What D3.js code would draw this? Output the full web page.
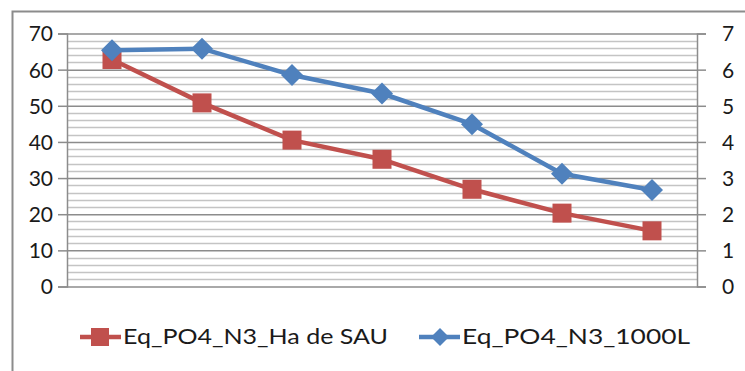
<!DOCTYPE html>
<html>
<head>
<meta charset="utf-8">
<script src="https://cdn.jsdelivr.net/npm/d3@7"></script>
<style>
  html, body { margin: 0; padding: 0; background: #fff; }
  svg { display: block; }
  text { font-family: Lato, "Open Sans", sans-serif; fill: #1a1a1a; }
</style>
</head>
<body>
<svg id="chart" width="745" height="371"></svg>
<script>
// Seven successive periods, two indicators on separate axes
const categories = ["1", "2", "3", "4", "5", "6", "7"];
const haSau = [62.8, 50.8, 40.5, 35.2, 26.9, 20.3, 15.4];   // left axis
const perThousandL = [6.54, 6.58, 5.85, 5.34, 4.49, 3.12, 2.67]; // right axis
const leftTicks = [0, 10, 20, 30, 40, 50, 60, 70];
const rightTicks = [0, 1, 2, 3, 4, 5, 6, 7];
const seriesNames = ["Eq_PO4_N3_Ha de SAU", "Eq_PO4_N3_1000L"];

const red = "#C0504D", blue = "#4F81BD";
const svg = d3.select("#chart");

// outer frame
svg.append("rect").attr("x", 12.5).attr("y", 11.5).attr("width", 760).attr("height", 400)
  .attr("fill", "none").attr("stroke", "#8c8c8c").attr("stroke-width", 2);

const plot = { left: 67, right: 697, top: 33.5, bottom: 286.5 };

const x = d3.scaleBand().domain(categories).range([plot.left, plot.right]);
const yL = d3.scaleLinear().domain([0, 70]).range([plot.bottom, plot.top]);
const yR = d3.scaleLinear().domain([0, 7]).range([plot.bottom, plot.top]);

// minor gridlines every 2, major every 10
const minor = d3.range(0, 71, 2).filter(v => v % 10 !== 0);
svg.append("g").selectAll("line").data(minor).join("line")
  .attr("x1", plot.left).attr("x2", plot.right)
  .attr("y1", d => Math.round(yL(d)) + 0.5).attr("y2", d => Math.round(yL(d)) + 0.5)
  .attr("stroke", "#c4c4c4").attr("stroke-width", 1.5);

// left axis
const axL = svg.append("g").attr("transform", `translate(${plot.left},0)`)
  .call(d3.axisLeft(yL).tickValues(leftTicks).tickFormat(d3.format("d")).tickSize(9).tickPadding(5));
axL.select(".domain").attr("stroke", "#8c8c8c").attr("stroke-width", 1.5);
axL.selectAll(".tick line").attr("stroke", "#8c8c8c").attr("stroke-width", 1.5);
axL.selectAll(".tick").append("line")
  .attr("x1", 0).attr("x2", plot.right - plot.left)
  .attr("stroke", "#8c8c8c").attr("stroke-width", 1.5);
axL.selectAll("text").style("font-size", "21px").attr("fill", "#1a1a1a")
  .attr("font-family", "Lato, sans-serif").attr("dy", "0.35em");

// right axis
const axR = svg.append("g").attr("transform", `translate(${plot.right},0)`)
  .call(d3.axisRight(yR).tickValues(rightTicks).tickFormat(d3.format("d")).tickSize(9).tickPadding(16));
axR.select(".domain").attr("stroke", "#8c8c8c").attr("stroke-width", 1.5);
axR.selectAll(".tick line").attr("stroke", "#8c8c8c").attr("stroke-width", 1.5);
axR.selectAll("text").style("font-size", "21px").attr("fill", "#1a1a1a")
  .attr("font-family", "Lato, sans-serif").attr("dy", "0.35em");

const cx = d => x(d) + x.bandwidth() / 2;

// series lines
const lineL = d3.line().x((d, i) => cx(categories[i])).y(d => yL(d));
const lineR = d3.line().x((d, i) => cx(categories[i])).y(d => yR(d));

svg.append("path").datum(haSau).attr("d", lineL)
  .attr("fill", "none").attr("stroke", red).attr("stroke-width", 4.5).attr("stroke-linejoin", "round");
svg.append("g").selectAll("rect").data(haSau).join("rect")
  .attr("x", (d, i) => cx(categories[i]) - 9.5).attr("y", d => yL(d) - 9.5)
  .attr("width", 19).attr("height", 19).attr("fill", red);

svg.append("path").datum(perThousandL).attr("d", lineR)
  .attr("fill", "none").attr("stroke", blue).attr("stroke-width", 4.5).attr("stroke-linejoin", "round");
const diamond = "M0,-11L11,0L0,11L-11,0Z";
svg.append("g").selectAll("path").data(perThousandL).join("path")
  .attr("transform", (d, i) => `translate(${cx(categories[i])},${yR(d)})`)
  .attr("d", diamond).attr("fill", blue);

// legend
const legY = 337;
const leg1 = svg.append("g");
leg1.append("line").attr("x1", 80).attr("x2", 121).attr("y1", legY).attr("y2", legY)
  .attr("stroke", red).attr("stroke-width", 4.5);
leg1.append("rect").attr("x", 91).attr("y", legY - 9).attr("width", 18).attr("height", 18).attr("fill", red);
leg1.append("text").attr("x", 123).attr("y", legY + 7).style("font-size", "21px")
  .attr("textLength", 265).attr("lengthAdjust", "spacingAndGlyphs").text(seriesNames[0]);

const leg2 = svg.append("g");
leg2.append("line").attr("x1", 419).attr("x2", 460).attr("y1", legY).attr("y2", legY)
  .attr("stroke", blue).attr("stroke-width", 4.5);
leg2.append("path").attr("transform", `translate(440,${legY})`)
  .attr("d", "M0,-9L9,0L0,9L-9,0Z").attr("fill", blue);
leg2.append("text").attr("x", 462).attr("y", legY + 7).style("font-size", "21px")
  .attr("textLength", 228).attr("lengthAdjust", "spacingAndGlyphs").text(seriesNames[1]);
</script>
</body>
</html>
